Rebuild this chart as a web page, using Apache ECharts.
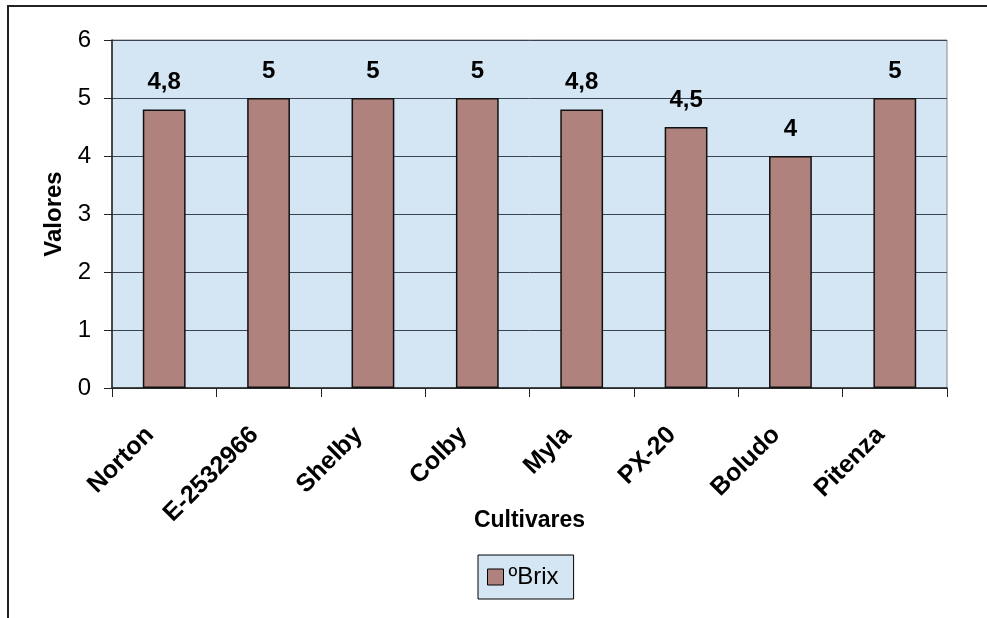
<!DOCTYPE html>
<html>
<head>
<meta charset="utf-8">
<script src="https://cdn.jsdelivr.net/npm/echarts@6/dist/echarts.min.js"></script>
<style>
html,body{margin:0;padding:0;background:#fff;}
#frame{position:absolute;left:7px;top:5px;width:990px;height:620px;border-left:2px solid #222;border-top:2px solid #222;box-sizing:border-box;}
#chart{position:absolute;left:0;top:0;width:987px;height:618px;}
</style>
</head>
<body>
<div id="frame"></div>
<div id="chart"></div>
<script>
const categories = ['Norton', 'E-2532966', 'Shelby', 'Colby', 'Myla', 'PX-20', 'Boludo', 'Pitenza'];
const brixValues = [4.8, 5, 5, 5, 4.8, 4.5, 4, 5];
const seriesName = 'ºBrix';
const yTitle = 'Valores';
const xTitle = 'Cultivares';

const chart = echarts.init(document.getElementById('chart'), null, {renderer: 'canvas'});
const FONT = '"Liberation Sans", Arial, sans-serif';
chart.setOption({
  animation: false,
  textStyle: {fontFamily: FONT},
  grid: {
    left: 112, right: 40, top: 40, bottom: 230,
    show: true, backgroundColor: '#D4E6F4', borderColor: '#8a8a8a', borderWidth: 1
  },
  legend: {
    data: [seriesName],
    left: 478, top: 555,
    padding: [10, 15, 10, 9],
    backgroundColor: '#D4E6F4',
    borderColor: '#000', borderWidth: 1,
    itemWidth: 16, itemHeight: 16, itemGap: 4,
    icon: 'rect',
    itemStyle: {borderColor: '#000', borderWidth: 1},
    textStyle: {fontFamily: FONT, fontSize: 24, color: '#000', padding: [0,0,0,0]}
  },
  xAxis: {
    type: 'category',
    data: categories,
    name: xTitle,
    nameLocation: 'middle',
    nameGap: 121,
    nameMoveOverlap: false,
    nameTextStyle: {fontFamily: FONT, fontSize: 23, fontWeight: 'bold', color: '#000'},
    axisLine: {show: true, lineStyle: {color: '#222', width: 1.5}},
    axisTick: {show: true, length: 9, lineStyle: {color: '#222'}},
    axisLabel: {rotate: 45, fontFamily: FONT, fontSize: 25, fontWeight: 'bold', color: '#000',
      margin: 29, padding: [0, 20, 0, 0]},
    splitLine: {show: false}
  },
  yAxis: {
    type: 'value',
    min: 0, max: 6, interval: 1,
    name: yTitle,
    nameLocation: 'middle',
    nameGap: 41,
    nameRotate: 90,
    nameTextStyle: {fontFamily: FONT, fontSize: 24, fontWeight: 'bold', color: '#000'},
    axisLine: {show: true, lineStyle: {color: '#222', width: 1.5}},
    axisTick: {show: true, length: 8, lineStyle: {color: '#222'}},
    axisLabel: {fontFamily: FONT, fontSize: 24, color: '#000', margin: 21},
    splitLine: {show: true, lineStyle: {color: '#3a4450', width: 1}}
  },
  series: [{
    name: seriesName,
    type: 'bar',
    data: brixValues,
    barWidth: '41%',
    itemStyle: {color: '#AF827E', borderColor: '#111', borderWidth: 1.5},
    label: {
      show: true, position: 'top', distance: 15,
      fontFamily: FONT, fontSize: 24, fontWeight: 'bold', color: '#000',
      formatter: p => String(p.value).replace('.', ',')
    }
  }]
});
</script>
</body>
</html>
